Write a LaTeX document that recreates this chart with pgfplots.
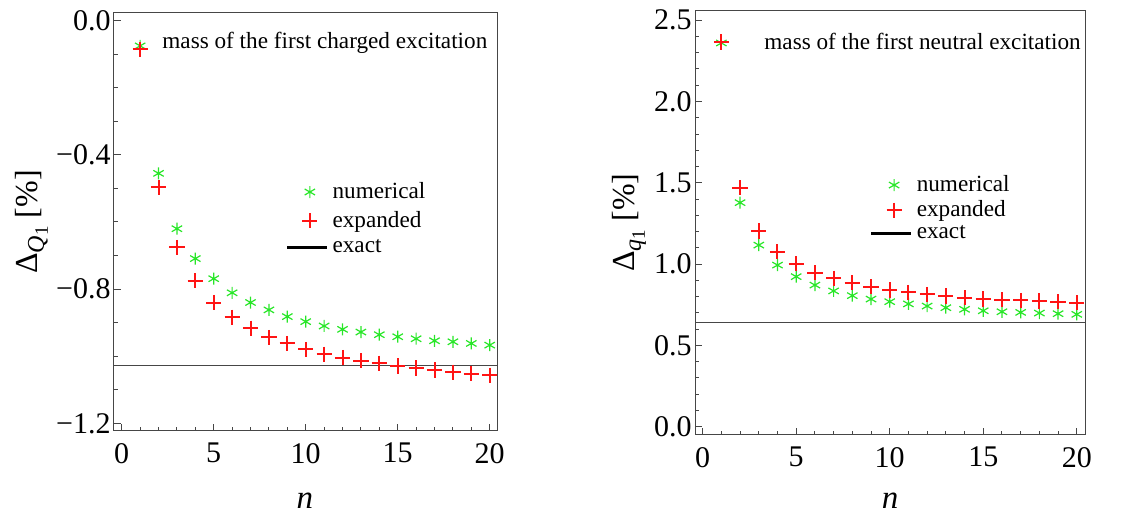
\documentclass[border=0pt]{standalone}
\usepackage{pgfplots}
\pgfplotsset{compat=1.18}
\usepackage{fontspec}
\setmainfont{Liberation Serif}

\definecolor{numgreen}{RGB}{40,230,40}
\definecolor{expred}{RGB}{255,20,20}
\definecolor{framegray}{RGB}{70,70,70}

\pgfplotsset{
  mmastyle/.style={
    scale only axis,
    axis line style={framegray, line width=0.5pt},
    every tick/.style={framegray, line width=0.5pt},
    tick align=inside,
    xtick pos=bottom, ytick pos=left,
    major tick length=3.5pt, minor tick length=2pt,
    xtick={0,5,10,15,20},
    xticklabels={0,5,10,15,20},
    minor x tick num=4,
    xticklabel style={font=\fontsize{15}{18}\selectfont, yshift=-2.5pt},
    yticklabel style={font=\fontsize{15}{18}\selectfont, xshift=1.8pt},
    xlabel={\textit{n}},
    legend cell align=left,
    legend style={draw=none, fill=none, inner sep=0pt,
      font=\fontsize{11.6}{13}\selectfont,
      /tikz/every even column/.append style={column sep=7.5pt}},
  },
  numstyle/.style={only marks, mark=asterisk, mark size=3pt, color=numgreen, line width=0.6pt},
  expstyle/.style={only marks, mark=+, mark size=3.8pt, color=expred, line width=1pt},
  exactstyle/.style={no marks, color=framegray, line width=0.6pt,
    legend image code/.code={\draw[black, line width=1.6pt] (-0.1cm,0cm) -- (0.6cm,0cm);}},
}

\begin{document}
\begin{tikzpicture}
\useasboundingbox (0,0) rectangle (570pt,257pt);

\begin{axis}[
  mmastyle,
  at={(57pt,41.5pt)}, anchor=south west,
  width=192pt, height=209pt,
  xmin=-0.42, xmax=20.45,
  ymin=-1.223, ymax=0.023,
  ytick={0,-0.4,-0.8,-1.2},
  yticklabels={0.0,−0.4,−0.8,−1.2},
  minor y tick num=3,
  ylabel={Δ\raisebox{-0.45ex}{\fontsize{12}{13}\selectfont\textit{Q}\raisebox{-0.35ex}{\fontsize{9.5}{10}\selectfont 1}} [\%]},
  y label style={font=\fontsize{16}{18}\selectfont, at={(axis description cs:-0.215,0.5)}, anchor=center},
  x label style={font=\fontsize{16.5}{18}\selectfont, at={(axis description cs:0.497,-0.186)}, anchor=base, inner sep=0pt},
  legend style={at={(axis cs:8.88,-0.469)}, anchor=north west, row sep=0.8pt},
]
\addplot[numstyle] coordinates {
  (1,-0.075) (2,-0.455) (3,-0.620) (4,-0.709) (5,-0.769)
  (6,-0.811) (7,-0.840) (8,-0.862) (9,-0.882) (10,-0.897)
  (11,-0.910) (12,-0.920) (13,-0.928) (14,-0.936) (15,-0.942)
  (16,-0.948) (17,-0.954) (18,-0.957) (19,-0.962) (20,-0.967)
};
\addlegendentry{numerical}
\addplot[expstyle] coordinates {
  (1,-0.085) (2,-0.497) (3,-0.676) (4,-0.775) (5,-0.840)
  (6,-0.884) (7,-0.917) (8,-0.944) (9,-0.962) (10,-0.980)
  (11,-0.994) (12,-1.004) (13,-1.014) (14,-1.021) (15,-1.029)
  (16,-1.035) (17,-1.041) (18,-1.048) (19,-1.052) (20,-1.057)
};
\addlegendentry{expanded}
\addplot[exactstyle] coordinates {(-1,-1.028) (21,-1.028)};
\addlegendentry{exact}
\node[anchor=west, inner sep=0pt, font=\fontsize{11.6}{13}\selectfont] at (axis cs:2.19,-0.066) {mass of the first charged excitation};
\end{axis}

\begin{axis}[
  mmastyle,
  at={(347.5pt,39.5pt)}, anchor=south west,
  width=195pt, height=212.35pt,
  xmin=-0.41, xmax=20.44,
  ymin=-0.051, ymax=2.561,
  ytick={0,0.5,1,1.5,2,2.5},
  yticklabels={0.0,0.5,1.0,1.5,2.0,2.5},
  minor y tick num=4,
  ylabel={Δ\raisebox{-0.45ex}{\fontsize{12}{13}\selectfont\textit{q}\raisebox{-0.35ex}{\fontsize{9.5}{10}\selectfont 1}} [\%]},
  y label style={font=\fontsize{16}{18}\selectfont, at={(axis description cs:-0.169,0.5)}, anchor=center},
  x label style={font=\fontsize{16.5}{18}\selectfont, at={(axis description cs:0.5,-0.174)}, anchor=base, inner sep=0pt},
  legend style={at={(axis cs:8.91,1.572)}, anchor=north west, row sep=-1pt},
]
\addplot[numstyle] coordinates {
  (1,2.360) (2,1.378) (3,1.117) (4,0.994) (5,0.923)
  (6,0.871) (7,0.835) (8,0.806) (9,0.785) (10,0.769)
  (11,0.755) (12,0.742) (13,0.732) (14,0.722) (15,0.713)
  (16,0.707) (17,0.703) (18,0.699) (19,0.695) (20,0.691)
};
\addlegendentry{numerical}
\addplot[expstyle] coordinates {
  (1,2.366) (2,1.470) (3,1.204) (4,1.076) (5,1.003)
  (6,0.947) (7,0.913) (8,0.886) (9,0.861) (10,0.841)
  (11,0.826) (12,0.814) (13,0.804) (14,0.793) (15,0.785)
  (16,0.781) (17,0.777) (18,0.773) (19,0.769) (20,0.763)
};
\addlegendentry{expanded}
\addplot[exactstyle] coordinates {(-1,0.640) (21,0.640)};
\addlegendentry{exact}
\node[anchor=west, inner sep=0pt, font=\fontsize{11.6}{13}\selectfont] at (axis cs:3.28,2.372) {mass of the first neutral excitation};
\end{axis}
\end{tikzpicture}
\end{document}
